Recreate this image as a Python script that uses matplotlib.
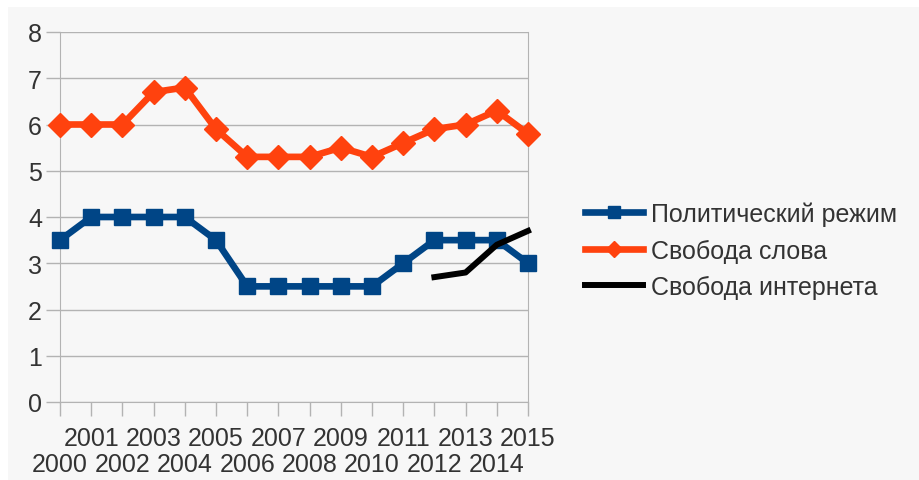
import numpy as np
import matplotlib.pyplot as plt
from matplotlib.patches import Rectangle

years = list(range(2000, 2016))
regime = [3.5, 4, 4, 4, 4, 3.5, 2.5, 2.5, 2.5, 2.5, 2.5, 3, 3.5, 3.5, 3.5, 3]
speech = [6, 6, 6, 6.7, 6.8, 5.9, 5.3, 5.3, 5.3, 5.5, 5.3, 5.6, 5.9, 6.0, 6.3, 5.8]
net_years = [2012, 2013, 2014, 2015]
internet = [2.7, 2.8, 3.4, 3.7]

plt.rcParams['font.family'] = ['Liberation Sans', 'DejaVu Sans']

fig = plt.figure(figsize=(9.2, 4.81), dpi=100)
fig.patch.set_facecolor('white')
# gray panel behind everything
fig.add_artist(Rectangle((8 / 920, 0), 1, 1 - 8 / 481, transform=fig.transFigure,
                         facecolor='#f7f7f7', edgecolor='none', zorder=-10))

ax = fig.add_axes([60 / 920, 78 / 481, 468 / 920, 370 / 481])
ax.set_facecolor('#f7f7f7')

x = np.arange(len(years))
xi = np.array([years.index(y) for y in net_years])

ax.plot(x, regime, color='#004586', lw=4.8, marker='s', ms=12, label='Политический режим',
        zorder=3, clip_on=False)
ax.plot(x, speech, color='#ff420e', lw=4.8, marker='D', ms=12, label='Свобода слова',
        zorder=3, clip_on=False)
ax.plot(xi, internet, color='black', lw=4.3, solid_capstyle='projecting',
        label='Свобода интернета', zorder=4, clip_on=False)

ax.set_xlim(0, len(years) - 1)
ax.set_ylim(0, 8)
ax.set_yticks(range(0, 9))
ax.grid(axis='y', color='#b3b3b3', lw=1)
ax.set_axisbelow(True)

# odd years on the upper row, even years on the lower row
ax.set_xticks(x[1::2])
ax.set_xticklabels([str(y) for y in years[1::2]])
ax.set_xticks(x[0::2], minor=True)
ax.set_xticklabels([str(y) for y in years[0::2]], minor=True)

for s in ['left', 'right', 'bottom']:
    ax.spines[s].set_color('#b3b3b3')
ax.spines['top'].set_visible(False)
ax.tick_params(axis='both', which='both', colors='#b3b3b3', labelcolor='#333333',
               labelsize=18, length=10, width=1)
ax.tick_params(axis='y', pad=3)
ax.tick_params(axis='x', which='major', pad=7)
ax.tick_params(axis='x', which='minor', pad=26)

ax.legend(loc='center left', bbox_to_anchor=(1.122, 0.41), frameon=False, fontsize=18,
          labelcolor='#333333', handlelength=2.3, handletextpad=0.35, labelspacing=0.5,
          borderpad=0, borderaxespad=0, markerscale=0.7)

fig.savefig('out.png', dpi=100, facecolor=fig.get_facecolor())
